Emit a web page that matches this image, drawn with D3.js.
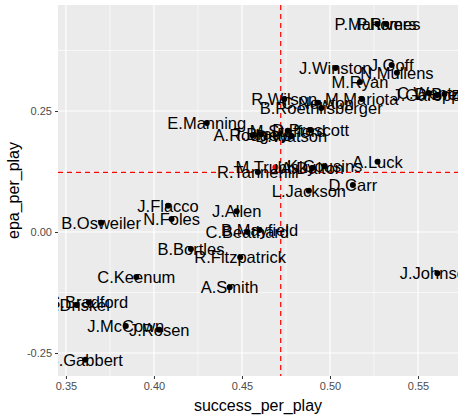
<!DOCTYPE html><html><head><meta charset="utf-8"><script src="https://cdn.jsdelivr.net/npm/d3@7"></script>
<style>body{margin:0;background:#fff}</style></head><body><svg id="c" width="464" height="419"></svg><script>
const names=["P.Mahomes","P.Rivers","J.Winston","J.Goff","N.Mullens","M.Ryan","R.Wilson","C.Newton","B.Roethlisberger","M.Mariota","C.Wentz","J.Garoppolo","D.Brees","E.Manning","A.Rodgers","T.Brady","M.Stafford","D.Watson","D.Prescott","R.Tannehill","M.Trubisky","A.Dalton","K.Cousins","A.Luck","D.Carr","L.Jackson","J.Flacco","N.Foles","B.Osweiler","J.Allen","C.Beathard","B.Mayfield","B.Bortles","R.Fitzpatrick","C.Keenum","A.Smith","J.Johnson","S.Bradford","D.Driskel","J.McCown","J.Rosen","B.Gabbert"];
const success=[0.527,0.532,0.503,0.535,0.538,0.517,0.474,0.493,0.495,0.518,0.556,0.561,0.565,0.430,0.456,0.461,0.476,0.478,0.489,0.459,0.469,0.490,0.497,0.527,0.513,0.488,0.408,0.410,0.370,0.447,0.453,0.460,0.421,0.449,0.390,0.443,0.561,0.363,0.356,0.384,0.403,0.361];
const epa=[0.430,0.430,0.339,0.345,0.329,0.310,0.275,0.267,0.256,0.275,0.287,0.283,0.285,0.225,0.200,0.202,0.209,0.198,0.211,0.124,0.134,0.132,0.136,0.145,0.097,0.085,0.054,0.027,0.019,0.043,0.000,0.004,-0.035,-0.052,-0.093,-0.114,-0.085,-0.145,-0.151,-0.194,-0.202,-0.264];
const highlight="M.Trubisky";
const xTicks=[0.35,0.40,0.45,0.50,0.55], yTicks=[-0.25,0,0.25];
const xMinor=[0.375,0.425,0.475,0.525], yMinor=[-0.125,0.125,0.375];
const vLine=0.472, hLine=0.123;
const L=58,R=458,T=5,B=376;
const x=d3.scaleLinear().domain([0.3455,0.5727]).range([L,R]);
const y=d3.scaleLinear().domain([0.469,-0.2975]).range([T,B]);
const svg=d3.select("#c");
const F="Liberation Sans, Arial, sans-serif";
svg.append("rect").attr("x",L).attr("y",T).attr("width",R-L).attr("height",B-T).attr("fill","#ebebeb");
const g=svg.append("g");
xMinor.forEach(v=>g.append("line").attr("x1",x(v)).attr("x2",x(v)).attr("y1",T).attr("y2",B).attr("stroke","#fff").attr("stroke-width",0.6));
yMinor.forEach(v=>g.append("line").attr("y1",y(v)).attr("y2",y(v)).attr("x1",L).attr("x2",R).attr("stroke","#fff").attr("stroke-width",0.6));
xTicks.forEach(v=>g.append("line").attr("x1",x(v)).attr("x2",x(v)).attr("y1",T).attr("y2",B).attr("stroke","#fff").attr("stroke-width",1.2));
yTicks.forEach(v=>g.append("line").attr("y1",y(v)).attr("y2",y(v)).attr("x1",L).attr("x2",R).attr("stroke","#fff").attr("stroke-width",1.2));
const xa=svg.append("g").attr("transform",`translate(0,${B})`).call(d3.axisBottom(x).tickValues(xTicks).tickFormat(d3.format(".2f")).tickSize(3).tickPadding(3));
const ya=svg.append("g").attr("transform",`translate(${L},0)`).call(d3.axisLeft(y).tickValues(yTicks).tickFormat(d=>d3.format(".2f")(d).replace("−","-")).tickSize(3).tickPadding(3));
[xa,ya].forEach(a=>{a.select(".domain").remove();a.selectAll("line").attr("stroke","#333");a.selectAll("text").attr("fill","#4d4d4d").style("font-family",F).style("font-size","11px");});
svg.append("line").attr("x1",x(vLine)).attr("x2",x(vLine)).attr("y1",T).attr("y2",B).attr("stroke","red").attr("stroke-width",1.2).attr("stroke-dasharray","5,4");
svg.append("line").attr("y1",y(hLine)).attr("y2",y(hLine)).attr("x1",L).attr("x2",R).attr("stroke","red").attr("stroke-width",1.2).attr("stroke-dasharray","5,4");
svg.append("clipPath").attr("id","cp").append("rect").attr("x",L).attr("y",T).attr("width",R-L).attr("height",B-T);
const pg=svg.append("g").attr("clip-path","url(#cp)");
names.forEach((n,i)=>{
 pg.append("circle").attr("cx",x(success[i])).attr("cy",y(epa[i])).attr("r",3).attr("fill",n===highlight?"red":"black");
});
names.forEach((n,i)=>{
 pg.append("text").attr("x",x(success[i])).attr("y",y(epa[i])).attr("text-anchor","middle").attr("dominant-baseline","central").style("font-family",F).style("font-size","16.5px").attr("fill","black").text(n);
});
svg.append("text").attr("x",(L+R)/2).attr("y",411).attr("text-anchor","middle").style("font-family",F).style("font-size","16px").text("success_per_play");
svg.append("text").attr("transform",`translate(19,${(T+B)/2}) rotate(-90)`).attr("text-anchor","middle").style("font-family",F).style("font-size","16px").text("epa_per_play");
</script></body></html>
